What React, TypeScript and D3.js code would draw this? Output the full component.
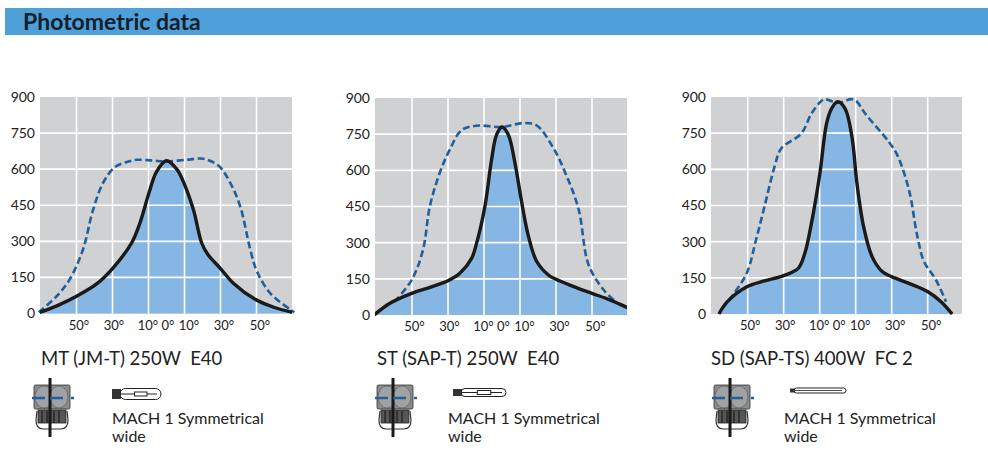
import React, { useEffect, useRef } from 'react'
import * as d3 from 'd3'

const WIDTH = 988
const HEIGHT = 463
const FONT = 'Lato, "Open Sans", sans-serif'

const yTicks = [0, 150, 300, 450, 600, 750, 900]
const gridAngles = [-50, -30, -10, 10, 30, 50]
const labelAngles = [-50, -30, -10, 0, 10, 30, 50]

// [angle in degrees, intensity]
const mtSolid: [number, number][] = [[-71, 3], [-60, 35], [-50, 72], [-39, 122], [-30, 187], [-19.5, 292], [-14.8, 375], [-9.8, 500], [-5.5, 590], [0, 635], [5.7, 600], [9.8, 540], [15, 430], [19.6, 292], [23, 245], [30, 187], [37.3, 125], [49.5, 58], [60, 25], [71, 3]]
const mtDashed: [number, number][] = [[-71, 5], [-61.4, 69], [-54, 139], [-46.5, 264], [-40.8, 431], [-35.3, 542], [-28.8, 608], [-22, 630], [-16.7, 639], [-8, 636], [0, 632], [11.3, 639], [20.6, 643], [29, 614], [35.5, 542], [41, 444], [46.6, 264], [50.3, 174], [57.8, 83], [71, 5]]

const stSolid: [number, number][] = [[-71, 0], [-62.5, 48], [-50.2, 90], [-40, 115], [-30, 142], [-23.4, 173], [-16.9, 235], [-14.1, 298], [-9.5, 450], [-5.8, 644], [-3, 748], [0, 780], [3.5, 748], [7.2, 630], [11, 465], [14.7, 326], [19.3, 222], [25.8, 166], [30, 148], [39.8, 118], [50, 90], [60.2, 62], [71, 26]]
const stDashed: [number, number][] = [[-59.7, 55], [-50.2, 145], [-43.9, 270], [-40.1, 450], [-34.6, 589], [-29, 686], [-22.5, 766], [-14.1, 785], [0, 780], [11.9, 796], [19.3, 786], [28.6, 692], [36, 575], [42.6, 437], [48.1, 208], [56.5, 104], [62.1, 62]]

const sdSolid: [number, number][] = [[-66, 0], [-61.3, 51], [-50.5, 113], [-40.8, 137], [-30, 159], [-22, 189], [-18.3, 251], [-14.6, 376], [-9.9, 583], [-6.2, 790], [-3.4, 852], [0, 880], [4.1, 852], [7.9, 735], [10.7, 541], [14.4, 362], [19.1, 238], [24.7, 176], [29.9, 155], [39.6, 127], [49.9, 93], [57.4, 51], [63.6, 0]]
const sdDashed: [number, number][] = [[-64.1, 23], [-51, 162], [-45.4, 307], [-40.7, 445], [-35.1, 610], [-31.4, 686], [-20.2, 749], [-14.6, 831], [-9, 884], [-7.1, 891], [0, 876], [7.9, 891], [10.7, 880], [15.3, 831], [28.4, 714], [33.1, 659], [39.6, 514], [44.3, 320], [48, 217], [54.6, 141], [60.2, 51]]

const panels = [
    { title: 'MT (JM-T) 250W  E40', solid: mtSolid, dashed: mtDashed, left: 40, right: 292, top: 97, bottom: 313.5, center: 166.5, titleX: 41, iconX: 50, lampX: 112, lampW: 50, textX: 112, lampKind: 0 },
    { title: 'ST (SAP-T) 250W  E40', solid: stSolid, dashed: stDashed, left: 375, right: 627, top: 98, bottom: 315, center: 502, titleX: 377, iconX: 393, lampX: 453, lampW: 54, textX: 448, lampKind: 1 },
    { title: 'SD (SAP-TS) 400W  FC 2', solid: sdSolid, dashed: sdDashed, left: 711, right: 962, top: 97, bottom: 314, center: 837.7, titleX: 711, iconX: 730, lampX: 790, lampW: 57, textX: 784, lampKind: 2 },
]

const drawLuminaire = (g: d3.Selection<SVGGElement, unknown, null, undefined>, cx: number) => {
    // lamp housing
    g.append('rect').attr('x', cx - 16).attr('y', 385).attr('width', 36).attr('height', 24)
        .attr('rx', 1.5).attr('fill', '#8a8b8d').attr('stroke', '#333').attr('stroke-width', 0.8)
    g.append('ellipse').attr('cx', cx - 6).attr('cy', 397).attr('rx', 9).attr('ry', 11)
        .attr('fill', '#a0a1a3').attr('stroke', '#555').attr('stroke-width', 0.6)
    g.append('ellipse').attr('cx', cx + 9).attr('cy', 397).attr('rx', 9).attr('ry', 11)
        .attr('fill', '#a0a1a3').attr('stroke', '#555').attr('stroke-width', 0.6)
    // heat sink
    g.append('rect').attr('x', cx - 12).attr('y', 410).attr('width', 28).attr('height', 13)
        .attr('fill', '#555658').attr('stroke', '#222').attr('stroke-width', 0.8)
    for (const dx of [-8, -3, 4, 9]) {
        g.append('line').attr('x1', cx + dx).attr('x2', cx + dx).attr('y1', 411).attr('y2', 423)
            .attr('stroke', '#1d1d1d').attr('stroke-width', 1.2)
    }
    // bracket
    g.append('path')
        .attr('d', `M${cx - 13},411 L${cx - 14},420 Q${cx - 14},429 ${cx - 7},429 L${cx + 11},429 Q${cx + 18},429 ${cx + 18},420 L${cx + 17},411`)
        .attr('fill', 'none').attr('stroke', '#333').attr('stroke-width', 1.2)
    g.append('line').attr('x1', cx).attr('x2', cx).attr('y1', 378).attr('y2', 437)
        .attr('stroke', '#1a1a1a').attr('stroke-width', 3)
    g.append('line').attr('x1', cx - 18).attr('x2', cx + 26).attr('y1', 398).attr('y2', 398)
        .attr('stroke', '#1f5f9e').attr('stroke-width', 2.6).attr('stroke-dasharray', '13 5 13 8 3')
}

const drawLamp = (g: d3.Selection<SVGGElement, unknown, null, undefined>, x: number, w: number, kind: number) => {
    const cy = kind === 2 ? 390.5 : kind === 1 ? 392.5 : 394
    const r = kind === 2 ? 2.5 : kind === 1 ? 4 : 5.5
    const baseW = kind === 2 ? 5 : 9
    g.append('rect').attr('x', x + baseW - 1).attr('y', cy - r).attr('width', w - baseW).attr('height', r * 2)
        .attr('rx', r).attr('fill', '#fff').attr('stroke', '#222').attr('stroke-width', 1)
    g.append('rect').attr('x', x).attr('y', cy - r + 0.5).attr('width', baseW).attr('height', r * 2 - 1)
        .attr('fill', '#333')
    g.append('line').attr('x1', x + baseW).attr('x2', x + w - 5).attr('y1', cy).attr('y2', cy)
        .attr('stroke', '#222').attr('stroke-width', kind === 2 ? 0.8 : 1.2)
    if (kind !== 2) {
        g.append('rect').attr('x', x + w * 0.45).attr('y', cy - 2).attr('width', w * 0.25).attr('height', 4)
            .attr('fill', '#fff').attr('stroke', '#222').attr('stroke-width', 1)
    }
}

export default function App() {
    const svgRef = useRef<SVGSVGElement>(null)

    useEffect(() => {
        if (!svgRef.current) return
        const svg = d3.select(svgRef.current)
        svg.selectAll('*').remove()
        svg.style('font-family', FONT)

        // Header band
        svg.append('rect').attr('x', 5).attr('y', 8).attr('width', WIDTH - 5).attr('height', 27).attr('fill', '#4f9fd8')
        svg.append('text').attr('x', 23).attr('y', 30).text('Photometric data')
            .attr('font-size', 23).attr('font-weight', 700).attr('fill', '#14202c')

        panels.forEach((p, i) => {
            const g = svg.append('g')
            const pxPerDeg = 36 / 20
            const x = d3.scaleLinear()
                .domain([(p.left - p.center) / pxPerDeg, (p.right - p.center) / pxPerDeg])
                .range([p.left, p.right])
            const y = d3.scaleLinear().domain([0, 900]).range([p.bottom, p.top])

            const clipId = `plot-${i}`
            svg.append('clipPath').attr('id', clipId).append('rect')
                .attr('x', p.left).attr('y', p.top - 6).attr('width', p.right - p.left).attr('height', p.bottom - p.top + 7)

            g.append('rect').attr('x', p.left).attr('y', p.top).attr('width', p.right - p.left).attr('height', p.bottom - p.top)
                .attr('fill', '#d0d1d3')

            const curve = d3.curveCatmullRom.alpha(0.5)
            const area = d3.area<[number, number]>()
                .x(d => x(d[0])).y0(y(0)).y1(d => y(d[1]))
                .curve(curve)
            const line = d3.line<[number, number]>()
                .x(d => x(d[0])).y(d => y(d[1]))
                .curve(curve)

            g.append('path').attr('d', area(p.solid)).attr('fill', '#85b6e4').attr('clip-path', `url(#${clipId})`)

            // Grid goes over the fill
            g.selectAll('.vgrid').data(gridAngles).enter().append('line').attr('class', 'vgrid')
                .attr('x1', d => x(d)).attr('x2', d => x(d)).attr('y1', p.top).attr('y2', p.bottom)
                .attr('stroke', '#fff').attr('stroke-width', 1.6)
            g.selectAll('.hgrid').data(yTicks.slice(1, -1)).enter().append('line').attr('class', 'hgrid')
                .attr('x1', p.left).attr('x2', p.right).attr('y1', d => y(d)).attr('y2', d => y(d))
                .attr('stroke', '#fff').attr('stroke-width', 1.6)

            g.append('path').attr('d', line(p.dashed)).attr('fill', 'none')
                .attr('stroke', '#1f5f9e').attr('stroke-width', 2.6).attr('stroke-dasharray', '7 3.5')
            g.append('path').attr('d', line(p.solid)).attr('fill', 'none').attr('clip-path', `url(#${clipId})`)
                .attr('stroke', '#1a1a1a').attr('stroke-width', 3.4).attr('stroke-linejoin', 'round')

            // Axes
            const yAxis = g.append('g').attr('transform', `translate(${p.left},0)`)
                .call(d3.axisLeft(y).tickValues(yTicks).tickSize(0).tickPadding(5))
            yAxis.select('.domain').remove()
            yAxis.selectAll('text').attr('font-size', 14).attr('font-family', FONT).attr('fill', '#222')

            // The degree labels sit a little off their grid lines in the original
            const nudge = [2, 1, -1, 1, 4, 3, 3]
            const xAxis = g.append('g').attr('transform', `translate(0,${p.bottom})`)
                .call(d3.axisBottom(x).tickValues(labelAngles).tickSize(0).tickPadding(7)
                    .tickFormat(d => `${Math.abs(d as number)}°`))
            xAxis.select('.domain').remove()
            xAxis.selectAll('text').attr('font-size', 13).attr('font-family', FONT).attr('fill', '#222')
                .attr('dx', (_, k) => nudge[k])

            // Caption
            g.append('text').attr('x', p.titleX).attr('y', 365).text(p.title)
                .attr('font-size', 18.5).attr('fill', '#222').style('white-space', 'pre')

            drawLuminaire(g.append('g'), p.iconX)
            drawLamp(g.append('g'), p.lampX, p.lampW, p.lampKind)

            const note = g.append('text').attr('y', 424).attr('font-size', 16).attr('fill', '#222')
            note.append('tspan').attr('x', p.textX).text('MACH 1 Symmetrical')
            note.append('tspan').attr('x', p.textX).attr('dy', 18).text('wide')
        })
    }, [])

    return <svg ref={svgRef} width={WIDTH} height={HEIGHT} style={{ position: 'absolute', left: 0, top: 0, background: '#fff' }} />
}
